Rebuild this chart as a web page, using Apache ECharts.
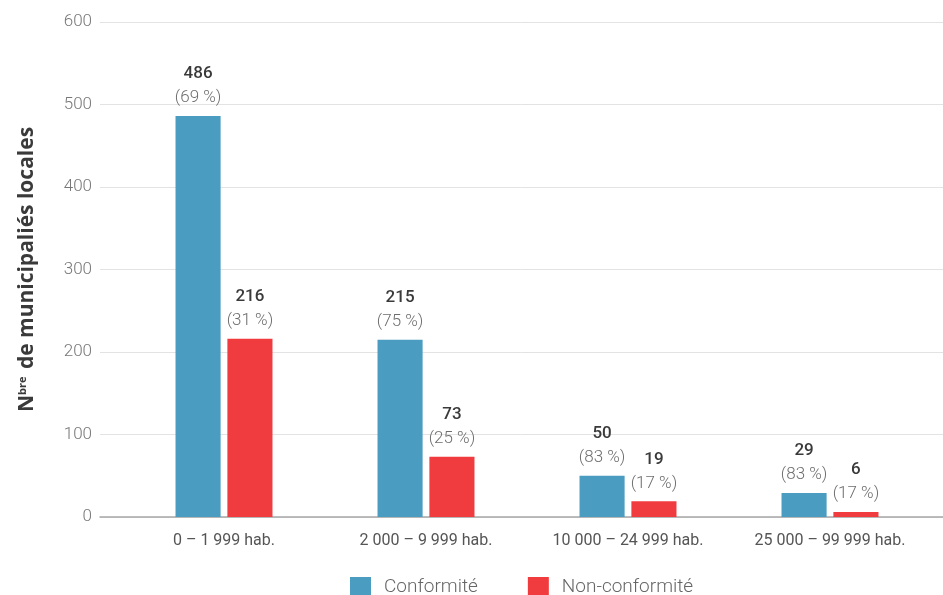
<!DOCTYPE html>
<html><head><meta charset="utf-8">
<script src="https://cdn.jsdelivr.net/npm/echarts@6/dist/echarts.min.js"></script>
<style>html,body{margin:0;padding:0;background:#fff}#c{width:943px;height:595px}</style>
</head><body><div id="c"></div>
<script>
const categories = ['0 – 1 999 hab.', '2 000 – 9 999 hab.', '10 000 – 24 999 hab.', '25 000 – 99 999 hab.'];
const conformite = [486, 215, 50, 29];
const nonConformite = [216, 73, 19, 6];
const conformitePct = ['69 %', '75 %', '83 %', '83 %'];
const nonConformitePct = ['31 %', '25 %', '17 %', '17 %'];
const yTicks = [0, 100, 200, 300, 400, 500, 600];

const chart = echarts.init(document.getElementById('c'));
const font = 'Roboto';
function lbl(pcts) {
  return {
    show: true, position: 'top', distance: 6,
    formatter: p => '{v|' + p.value + '}\n{p|(' + pcts[p.dataIndex] + ')}',
    rich: {
      v: {fontFamily: font, fontSize: 17, fontWeight: 500, color: '#3a3a3a', lineHeight: 24, align: 'center'},
      p: {fontFamily: font, fontSize: 17, fontWeight: 300, color: '#6e6e6e', lineHeight: 24, align: 'center'}
    }
  };
}
chart.setOption({
  animation: false,
  grid: [
    {left: 100, right: 0, top: 22, bottom: 78},
    {left: 123, right: 12, top: 22, bottom: 78}
  ],
  legend: {
    top: 572, left: 345, itemWidth: 21, itemHeight: 20, itemGap: 50, icon: 'rect',
    textStyle: {fontFamily: font, fontSize: 19, fontWeight: 300, color: '#666', padding: [0, 0, 0, 8]},
    data: ['Conformité', 'Non-conformité']
  },
  xAxis: [
    {gridIndex: 0, type: 'value', min: 0, max: 1, axisLabel: {show: false}, axisTick: {show: false},
      splitLine: {show: false}, axisLine: {show: true, lineStyle: {color: '#a8a8a8', width: 1.5}}},
    {gridIndex: 1, type: 'category', data: categories, axisLine: {show: false}, axisTick: {show: false},
      axisLabel: {fontFamily: font, fontSize: 16, color: '#555', margin: 16}}
  ],
  yAxis: [
    {gridIndex: 0, type: 'value', min: 0, max: 600, interval: 100,
      axisLabel: {fontFamily: font, fontSize: 17, fontWeight: 300, color: '#777', margin: 8,
        customValues: yTicks},
      axisLine: {show: false}, axisTick: {show: false},
      splitLine: {lineStyle: {color: '#e3e3e3', width: 1}},
      name: '{n|N}{s|bre}{n| de municipaliés locales}', nameLocation: 'middle', nameGap: 62,
      nameTextStyle: {rich: {
        n: {fontFamily: 'Open Sans', fontSize: 21, fontWeight: 'bold', color: '#3a3a3a'},
        s: {fontFamily: 'Open Sans', fontSize: 11, fontWeight: 'bold', color: '#3a3a3a', verticalAlign: 'top', padding: [0, 2, 8, 0]}
      }}},
    {gridIndex: 1, type: 'value', min: 0, max: 600, show: false}
  ],
  series: [
    {name: 'Conformité', type: 'bar', xAxisIndex: 1, yAxisIndex: 1, data: conformite,
      itemStyle: {color: '#4b9cc1'}, barGap: '15%', barCategoryGap: '52%', label: lbl(conformitePct)},
    {name: 'Non-conformité', type: 'bar', xAxisIndex: 1, yAxisIndex: 1, data: nonConformite,
      itemStyle: {color: '#f13c3f'}, label: lbl(nonConformitePct)}
  ]
});
</script></body></html>
